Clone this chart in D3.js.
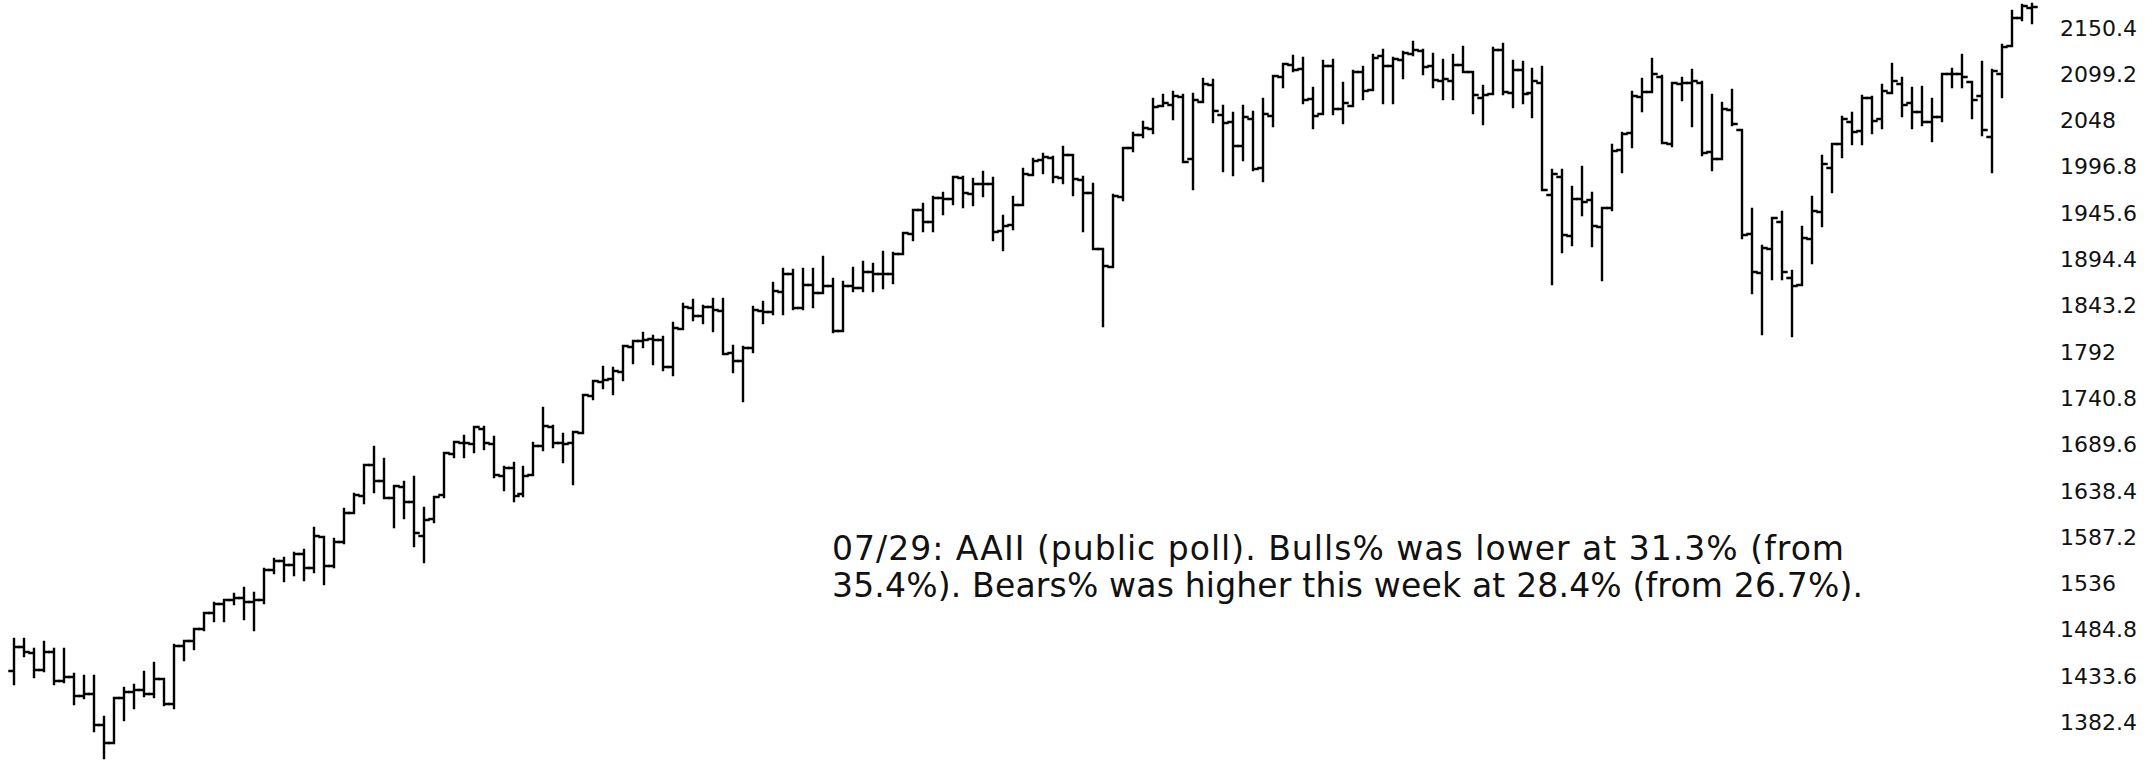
<!DOCTYPE html>
<html><head><meta charset="utf-8">
<script src="https://cdn.jsdelivr.net/npm/d3@7"></script>
<style>html,body{margin:0;padding:0;background:#fff;overflow:hidden}svg{display:block}</style>
</head><body>
<svg id="chart" width="2145" height="763"></svg>
<script>
// Weekly bars, week ending Friday, 2012-09-14 .. 2016-07-29
const firstWeek = "2012-09-14";
const lastWeek = "2016-07-29";
const opens = [
1438.9,1465.4,1459.8,1440.9,1460.9,1428.8,1433.2,1412,1414,1380,1360,1409,1416.3,1418,1414,1430,
1402.4,1466.5,1472,1486,1503,1513,1517.9,1519.8,1515.6,1518,1551,1560.7,1557,1569,1553,1588,1555,1582,1614,1633,1667,1650,1631,1642.8,1626,1588.8,1607,1634,1679,1692,1690,1707,1690.6,1655,1664,1635,1656,1688,1709,1691,1691,1703,1744,1759,1762,1770,1798,1804,1806,1805,1776,1818,
1841,1832,1842,1838,1791,1782,1797,1838,1836,1859,1878,1841,1866,1857.6,1865,1815,1865,1863,1881,1878,1878,1900,1923,1949,1936,1962,1961,1985,1967,1978,1978,1926,1932,1955,1988,2004,2007,1985,2010,1982,1968,1906,1886,1964,2018,2032,2039,2064,2065,2074,2005,2069,
2087,2054,2046,2020,2050,1996,2053,2096,2110,2105,2072,2055,2108,2061,2064,2102,2082,2119,2108,2115,2122,2125,2108,2092,2092,2110,2102,2073,2077,2126,2079,2104,2078,2090,1966,1986,1920,1961,1960,1930,1951,2015,2034,2074,2080,2096,2022,2089,2090,2090,2013,2006,2060,
2038,1923,1880,1906,1936,1874,1866,1917,1947,1996,2022,2047,2037,2073,2050,2078,2089,2067,2057,2046,2052,2100,2099,2091,2075,2030,2100,2131,2162,2173];
const highs = [
1474.5,1474.5,1463.2,1471,1464,1464,1435.5,1434.3,1433.4,1389,1409.2,1420,1424,1438.6,1448,1431,
1467.9,1472.3,1485,1503.3,1514.4,1518.3,1524.7,1530.9,1525.3,1552.5,1563.3,1564,1570.3,1573.7,1597.4,1588,1585,1618.5,1635,1667.5,1687.2,1674.2,1644.4,1648.7,1654.2,1620,1631.7,1680.2,1693.1,1698.8,1709.7,1709.2,1698,1664.9,1669.5,1664.8,1691.2,1729.9,1710,1701,1704,1745,1759.8,1775.2,1774.5,1798.2,1804.8,1813.6,1810,1809,1823.8,1844.9,
1849.4,1843.2,1850.8,1850.8,1798.8,1798,1841.6,1847.5,1867.9,1883.6,1882.4,1884,1884,1897.3,1872.5,1869.6,1884.9,1891.3,1889,1902.2,1901.3,1924,1949.4,1955.6,1963.9,1968.2,1985.6,1985.6,1983.9,1991.4,1984.9,1942.9,1964,1994.8,2005,2011.2,2007.7,2019.3,2010.4,1985.2,1977.4,1906,1965.3,2018.2,2034.3,2046.2,2071.5,2075.8,2079.5,2075.8,2077.9,2093.6,
2093,2064.4,2056.9,2064.6,2057.6,2072.4,2097,2110.6,2119.6,2117.5,2083.5,2113.9,2114.9,2089.8,2102.6,2107.7,2120.9,2125.9,2117.7,2123.9,2134.7,2126.2,2121.9,2115.4,2120.5,2129.9,2102,2085.8,2128.3,2132.8,2114.2,2112.7,2105.3,2106.8,1993.5,1993,1975,1996.5,1968,1951.4,2020.9,2034,2079.7,2094.3,2116.5,2097.6,2089.3,2095.6,2104.3,2090.4,2076.7,2067.4,2081.6,
2038,1950.3,1908.9,1940.2,1947.2,1881.6,1930.7,1963,2009.1,2022.4,2052.4,2056.6,2075.1,2074,2087.8,2111,2095.1,2083.8,2084.9,2071.9,2099.1,2105.3,2120.6,2091,2113.3,2103.5,2131.7,2169.1,2175.6,2177.1];
const lows = [
1425.5,1455.9,1433,1439,1425.5,1426.9,1403.3,1410,1373,1343.4,1360,1385.4,1398,1412,1411,1401.6,
1398,1451.6,1463.8,1485,1495,1495,1513.6,1497.3,1485,1514.5,1547.4,1538.6,1545,1539.5,1548.6,1536,1554.4,1581.3,1614,1625.3,1636.9,1630.7,1598.2,1608.1,1577.7,1560.3,1604.6,1632,1676,1676,1681.9,1684.9,1654,1639.4,1627.5,1633.4,1656,1684,1687,1670.4,1646.5,1702.9,1740.5,1752.7,1746.2,1760.6,1779.9,1797.2,1779.1,1772.3,1767,1818,
1827.7,1823.7,1815.3,1790.3,1770.5,1737.9,1791.8,1824.6,1834.4,1834.2,1839.6,1839.5,1842.1,1857.6,1814.4,1815.8,1859.7,1859.8,1859.8,1862.4,1868.7,1900,1916,1925.8,1925.8,1944.7,1955.6,1952.9,1955.2,1965,1916.4,1904.8,1928.3,1955.2,1988,1990.1,1980.2,1978.5,1966,1926,1906,1820.7,1886,1960.7,2014.5,2030.2,2034.5,2064,2049.6,2002.3,1972.6,2069,
2046,1992.4,1988.1,2004.5,1993.2,1980.9,2041.9,2085.4,2103,2067.3,2039.7,2055,2055.6,2045.5,2064,2072.3,2082,2067.9,2067.9,2095.2,2120.7,2099.2,2085.7,2072.1,2072.1,2101.6,2056.3,2044,2077,2077.1,2063.5,2067.9,2052.1,1970.9,1867,1903.1,1910,1944,1908.8,1871.9,1949.6,1990.7,2018.9,2058.2,2080,2022.8,2019.4,2070.3,2042.4,2009.6,1993.3,2005.6,2043.6,
1918.5,1857.8,1812.3,1872.7,1872.8,1810.1,1866,1891,1931.8,1969.3,2008.3,2022.5,2022.3,2033.8,2039.7,2078,2053.1,2039.5,2043.1,2025.9,2047.3,2085.1,2085.1,2050.4,2032.1,1991.7,2074,2131,2159,2155.8];
const closes = [
1465.8,1460.2,1440.7,1460.9,1428.6,1433.2,1411.9,1414.2,1379.9,1359.9,1409.2,1416.2,1418.1,1413.6,1430.2,1402.4,
1466.5,1472.1,1486,1503,1513.2,1517.9,1519.8,1515.6,1518.2,1551.2,1560.7,1556.9,1569.2,1553.3,1588.9,1555.3,1582.2,1614.4,1633.7,1667.5,1649.6,1630.7,1643.4,1626.7,1592.4,1606.3,1631.9,1680.2,1692.1,1691.7,1709.7,1691.4,1655.8,1663.5,1633,1655.2,1688,1709.9,1691.8,1690.5,1703.2,1744.5,1759.8,1761.6,1770.6,1798.2,1804.8,1805.8,1805.1,1775.3,1818.3,1841.4,
1831.4,1842.4,1838.7,1790.3,1782.6,1797,1838.6,1836.3,1859.5,1878,1841.1,1866.5,1857.6,1865.1,1815.7,1864.9,1863.4,1881.1,1878.5,1877.9,1900.5,1923.6,1949.4,1936.2,1962.9,1961,1985.4,1967.6,1978.2,1978.3,1925.2,1931.6,1955.1,1988.4,2003.4,2007.7,1985.5,2010.4,1982.9,1967.9,1906.1,1886.8,1964.6,2018.1,2031.9,2039.8,2063.5,2067.6,2075.4,2002.3,2070.7,2088.8,
2058.2,2044.8,2019.4,2051.8,1995,2055.5,2097,2110.3,2104.5,2071.3,2053.4,2108.1,2061,2067,2102.1,2081.2,2117.7,2108.3,2116.1,2122.7,2126.1,2107.4,2092.8,2094.1,2110,2101.5,2076.8,2076.6,2126.6,2079.7,2103.8,2077.6,2091.5,1970.9,1988.9,1921.2,1961.1,1958,1931.3,1951.4,2014.9,2033.1,2075.2,2079.4,2099.2,2023,2089.2,2090.1,2091.7,2012.4,2005.6,2061,2043.9,
1922,1880.3,1906.9,1940.2,1880.1,1864.8,1917.8,1948.1,2000,2022.2,2049.6,2035.9,2072.8,2047.6,2080.7,2091.6,2065.3,2057.1,2046.6,2052.3,2099.1,2099.1,2096.1,2071.2,2037.4,2103,2129.9,2161.7,2175,2173.6];
const yTickLabels = [2150.4,2099.2,2048,1996.8,1945.6,1894.4,1843.2,1792,1740.8,1689.6,1638.4,1587.2,1536,1484.8,1433.6,1382.4];
const noteLines = [
  "07/29: AAII (public poll). Bulls% was lower at 31.3% (from",
  "35.4%). Bears% was higher this week at 28.4% (from 26.7%)."
];
const noteWidths = [1012, 1031];

const parse = d3.timeParse("%Y-%m-%d");
const weeks = d3.timeFriday.range(parse(firstWeek), d3.timeDay.offset(parse(lastWeek), 1));
const data = weeks.map((w, i) => ({w, o: opens[i], h: highs[i], l: lows[i], c: closes[i]}))
  .filter(d => d.o !== undefined);

const svg = d3.select("#chart");
const x = d3.scalePoint().domain(data.map(d => d.w)).range([14, 2032]);
const y = d3.scaleLinear().domain([1382.4, 2150.4]).range([722.5, 28]);

const tick = 4.5;
svg.append("g").selectAll("path").data(data).join("path")
  .attr("fill", "none").attr("stroke", "#000").attr("stroke-width", 2.4)
  .attr("stroke-linecap", "square")
  .attr("d", d => {
    const cx = Math.round(x(d.w));
    const yh = Math.round(y(d.h)), yl = Math.round(y(d.l));
    const yo = Math.round(y(d.o)), yc = Math.round(y(d.c));
    return `M${cx},${yh}V${yl}M${cx - tick},${yo}H${cx}M${cx},${yc}H${cx + tick}`;
  });

const axis = svg.append("g").attr("transform", "translate(2048,0)")
  .call(d3.axisRight(y).tickValues(yTickLabels).tickSize(0).tickPadding(12).tickFormat(d => String(d)));
axis.select(".domain").remove();
axis.selectAll("text").attr("font-family", "'DejaVu Sans', Verdana, sans-serif")
  .attr("font-size", 22).attr("fill", "#111");

const note = svg.append("g")
  .attr("font-family", "'DejaVu Sans', Verdana, sans-serif").attr("font-size", 33).attr("fill", "#111");
note.selectAll("text").data(noteLines).join("text")
  .attr("x", 832).attr("y", (d, i) => 560 + i * 37)
  .attr("textLength", (d, i) => noteWidths[i]).attr("lengthAdjust", "spacing")
  .text(d => d);
</script>
</body></html>
